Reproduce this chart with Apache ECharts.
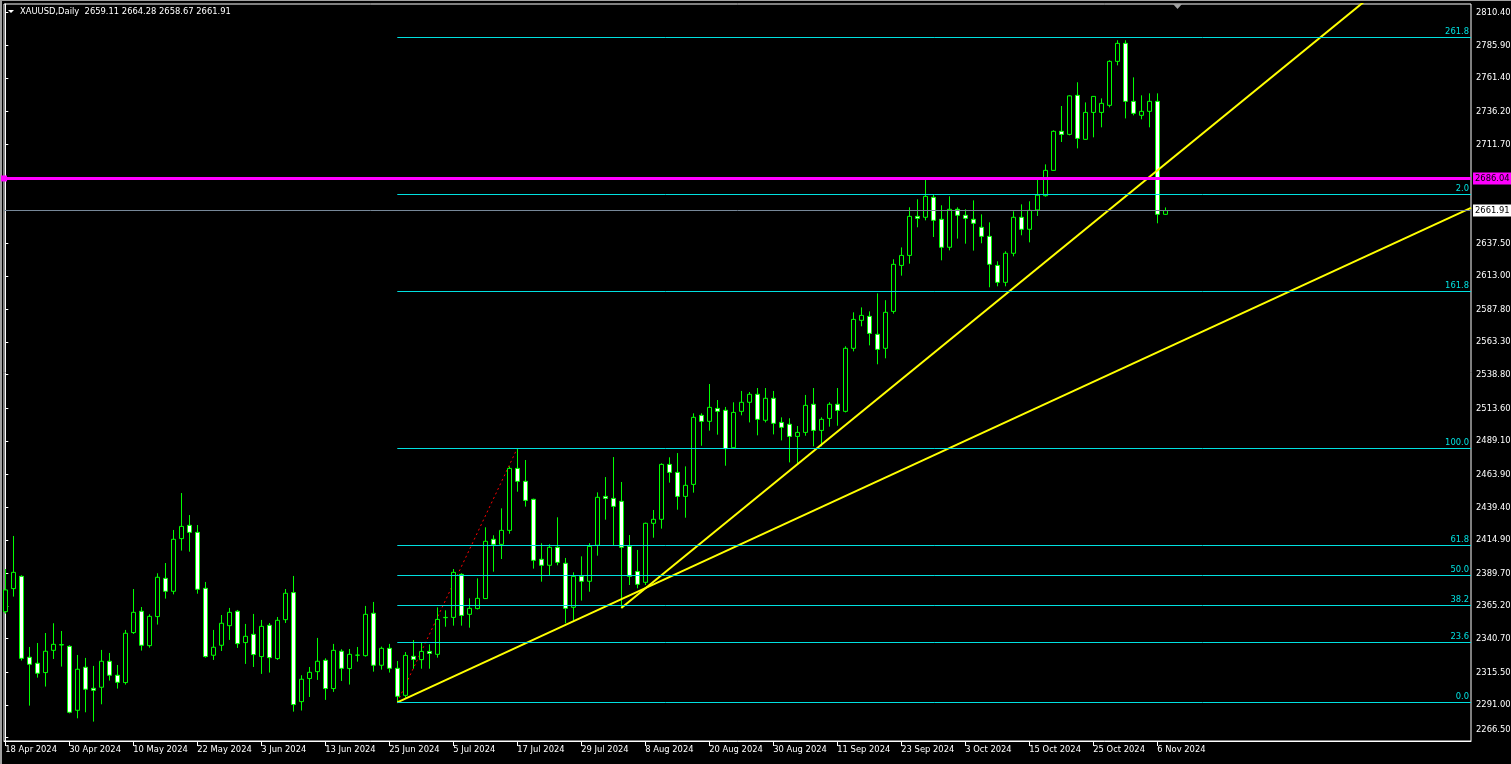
<!DOCTYPE html>
<html><head><meta charset="utf-8">
<script src="https://cdn.jsdelivr.net/npm/echarts@6/dist/echarts.min.js"></script>
<style>html,body{margin:0;padding:0;background:#000;overflow:hidden}#c{width:1511px;height:764px}</style>
</head><body><div id="c"></div>
<script>
// ---- DATA (XAUUSD Daily, bars from 18 Apr 2024 to 7 Nov 2024) ----
const opens=[2361.0,2378.3,2387.5,2326.8,2322.3,2315.3,2332.0,2336.0,2335.0,2287.0,2319.3,2303.5,2304.3,2323.8,2313.3,2307.8,2345.3,2361.3,2335.5,2357.3,2386.0,2376.3,2415.8,2425.8,2420.5,2378.5,2328.3,2335.8,2350.5,2361.3,2337.8,2344.0,2327.3,2350.8,2325.8,2355.0,2375.3,2293.5,2310.8,2316.0,2324.5,2303.3,2331.3,2318.3,2328.3,2328.0,2359.8,2320.8,2333.5,2318.5,2298.2,2327.5,2325.0,2331.2,2329.0,2356.5,2356.7,2389.0,2359.0,2363.3,2370.8,2415.3,2411.5,2422.0,2468.5,2458.8,2445.3,2400.3,2395.8,2409.3,2397.3,2364.3,2387.5,2383.8,2410.8,2447.5,2446.0,2443.8,2410.0,2391.2,2383.0,2427.3,2430.3,2471.5,2465.5,2447.5,2456.5,2508.3,2503.8,2513.5,2512.1,2484.0,2511.3,2518.1,2524.1,2504.6,2521.1,2503.0,2501.6,2492.5,2495.5,2516.6,2497.0,2506.0,2516.6,2511.3,2558.6,2579.6,2582.6,2569.1,2558.6,2586.3,2620.8,2628.3,2657.6,2656.9,2671.9,2655.4,2634.4,2662.9,2658.4,2655.4,2649.4,2642.6,2620.8,2608.1,2629.9,2656.9,2647.9,2662.4,2673.1,2692.1,2721.4,2719.1,2748.4,2715.4,2735.6,2735.6,2740.9,2773.9,2787.4,2743.9,2733.4,2736.4,2743.9,2659.11];
const highs=[2393.0,2417.8,2388.3,2334.5,2337.5,2345.0,2352.3,2346.5,2335.8,2328.5,2326.3,2320.3,2332.3,2330.0,2321.0,2347.3,2378.0,2364.5,2359.0,2389.8,2397.5,2422.3,2450.0,2433.5,2426.0,2383.3,2347.3,2358.5,2363.8,2362.3,2351.8,2359.3,2354.8,2352.5,2357.0,2378.0,2387.8,2313.3,2319.5,2341.3,2326.0,2336.8,2332.8,2333.0,2334.5,2365.3,2368.3,2334.8,2336.8,2324.0,2330.7,2339.7,2338.0,2336.5,2364.2,2362.0,2393.0,2389.8,2371.0,2386.0,2424.3,2418.3,2438.5,2470.0,2483.6,2474.8,2445.8,2412.3,2411.5,2431.8,2401.3,2390.5,2402.5,2412.3,2450.5,2462.0,2477.0,2458.3,2418.5,2407.3,2427.8,2437.3,2472.3,2476.8,2480.0,2470.0,2509.8,2509.8,2531.8,2519.8,2514.6,2518.1,2526.6,2525.8,2528.8,2528.8,2526.6,2506.8,2506.1,2500.3,2523.6,2528.8,2506.8,2518.1,2528.8,2560.1,2585.6,2589.3,2586.3,2599.8,2594.7,2625.4,2634.3,2664.4,2670.4,2685.4,2674.1,2665.9,2672.6,2664.4,2662.9,2669.6,2659.1,2653.1,2623.9,2631.4,2661.4,2666.6,2668.9,2685.4,2696.6,2722.1,2740.4,2748.4,2758.2,2743.1,2747.8,2746.1,2774.7,2789.7,2789.7,2761.9,2748.4,2749.9,2749.9,2664.28];
const lows=[2359.5,2372.3,2324.3,2290.5,2311.5,2304.8,2325.5,2319.8,2284.7,2281.0,2285.5,2278.5,2291.5,2309.3,2303.3,2306.3,2344.3,2331.8,2334.0,2351.3,2370.8,2374.0,2406.8,2406.0,2374.5,2326.5,2324.8,2331.5,2339.8,2333.8,2321.8,2319.5,2314.3,2315.3,2324.8,2352.5,2286.0,2286.8,2297.0,2309.8,2294.8,2300.8,2309.0,2306.3,2323.5,2327.3,2316.0,2317.5,2315.3,2293.0,2296.5,2318.2,2318.2,2318.2,2326.5,2349.7,2350.5,2350.5,2349.0,2362.7,2370.5,2391.0,2400.5,2419.5,2451.0,2439.8,2393.3,2383.5,2388.3,2395.8,2352.3,2354.5,2369.3,2376.0,2403.0,2430.0,2411.0,2363.7,2381.0,2378.5,2381.0,2416.5,2423.3,2457.8,2437.5,2431.5,2450.3,2485.5,2496.8,2493.8,2470.5,2483.5,2508.3,2503.0,2493.3,2503.0,2494.0,2489.5,2473.0,2471.3,2493.0,2485.0,2485.0,2499.8,2500.5,2510.5,2556.3,2575.1,2560.8,2546.6,2551.1,2584.6,2613.1,2622.1,2649.4,2654.6,2642.1,2624.6,2632.1,2640.9,2637.1,2631.9,2637.4,2604.4,2605.1,2605.1,2627.6,2643.4,2638.1,2657.9,2672.4,2691.8,2713.4,2718.4,2708.6,2715.0,2716.9,2724.4,2739.4,2770.9,2731.1,2733.4,2730.4,2724.4,2652.4,2658.67];
const closes=[2377.3,2390.5,2326.0,2321.5,2314.8,2331.3,2336.5,2336.3,2285.5,2317.8,2302.8,2302.0,2323.8,2313.3,2308.0,2344.8,2360.5,2335.8,2357.5,2386.8,2376.3,2415.3,2425.0,2420.5,2377.8,2327.3,2334.3,2352.3,2360.5,2337.0,2342.5,2328.8,2350.0,2326.5,2354.5,2374.8,2291.3,2310.3,2315.5,2323.8,2303.3,2332.0,2318.5,2329.0,2328.4,2359.0,2320.8,2333.5,2318.5,2297.5,2328.2,2325.2,2331.2,2329.7,2355.2,2356.7,2390.5,2358.2,2363.5,2371.0,2413.8,2411.5,2422.0,2468.5,2458.8,2444.5,2399.5,2395.8,2409.3,2398.0,2363.5,2387.5,2383.8,2410.0,2446.8,2446.0,2440.0,2409.3,2387.5,2381.5,2427.3,2430.3,2471.5,2465.5,2447.5,2455.8,2506.8,2503.8,2514.3,2511.3,2483.3,2510.5,2518.1,2524.1,2505.3,2521.1,2502.3,2499.3,2492.5,2495.5,2515.8,2497.0,2505.3,2516.6,2512.0,2558.6,2580.3,2583.3,2569.8,2557.8,2585.6,2621.6,2628.3,2657.6,2656.1,2672.6,2654.6,2634.4,2662.9,2658.4,2656.1,2652.4,2642.6,2621.6,2608.1,2629.9,2656.9,2647.9,2662.1,2673.5,2692.1,2721.4,2719.1,2748.0,2716.1,2735.6,2747.6,2742.4,2773.9,2787.4,2743.9,2734.9,2736.4,2743.9,2659.1,2661.91];
const dateTickIdx=[0,8,16,24,32,40,48,56,64,72,80,88,96,104,112,120,128,136,144];
const dateTickLabels=['18 Apr 2024','30 Apr 2024','10 May 2024','22 May 2024','3 Jun 2024','13 Jun 2024','25 Jun 2024','5 Jul 2024','17 Jul 2024','29 Jul 2024','8 Aug 2024','20 Aug 2024','30 Aug 2024','11 Sep 2024','23 Sep 2024','3 Oct 2024','15 Oct 2024','25 Oct 2024','6 Nov 2024'];
const priceTicks=[2810.40,2785.90,2761.40,2736.20,2711.70,2637.50,2613.00,2587.80,2563.30,2538.80,2513.60,2489.10,2463.90,2439.40,2414.90,2389.70,2365.20,2340.70,2315.50,2291.00,2266.50];
const fibAnchorIdx=[49,64];
const fibAnchorPrice=[2293.0,2483.6];
const fibLevels=[0,23.6,38.2,50,61.8,100,161.8,200,261.8];
const fibLabels=['0.0','23.6','38.2','50.0','61.8','100.0','161.8','2.0','261.8'];
const shallowTrend=[[49,2293.0],[145,2558.3]];
const steepTrend=[[77,2363.7],[145,2696.9]];
const hLinePrice=2686.04;
const symbolName='XAUUSD,Daily';

// ---- LAYOUT ----
const X_MIN=-0.1625, X_MAX=183.2125, Y_MIN=2263.96, Y_MAX=2816.93;
const FONT="'DejaVu Sans Condensed','Liberation Sans',sans-serif";
const FS=9.3;
const CYAN='#00e0e0';
const N=opens.length;
const candles=opens.map((o,i)=>[i,o,closes[i],lows[i],highs[i]]);
function ray(pts){const [a,b]=pts;const s=(b[1]-a[1])/(b[0]-a[0]);return [a,[X_MAX,a[1]+s*(X_MAX-a[0])]];}
const fibPrice=r=>fibAnchorPrice[0]+(fibAnchorPrice[1]-fibAnchorPrice[0])*r/100;
const last=N-1;
const header=symbolName+'  '+[opens[last],highs[last],lows[last],closes[last]].map(v=>v.toFixed(2)).join(' ');

const chart=echarts.init(document.getElementById('c'),null,{renderer:'canvas'});
chart.setOption({
  backgroundColor:'#000',
  animation:false,
  grid:{left:4,right:40,top:4,bottom:23,show:true,borderColor:'#ffffff',borderWidth:1,containLabel:false,outerBoundsMode:'none'},
  xAxis:{type:'value',min:X_MIN,max:X_MAX,splitLine:{show:false},
    axisLine:{show:true,lineStyle:{color:'#fff',width:1}},
    axisTick:{show:true,customValues:dateTickIdx,length:5,lineStyle:{color:'#fff'}},
    axisLabel:{customValues:dateTickIdx,formatter:v=>dateTickLabels[dateTickIdx.indexOf(Math.round(v))]||'',
      color:'#fff',fontFamily:FONT,fontSize:FS,align:'left',margin:4,hideOverlap:false}},
  yAxis:{type:'value',position:'right',min:Y_MIN,max:Y_MAX,splitLine:{show:false},
    axisLine:{show:true,lineStyle:{color:'#fff',width:1}},
    axisTick:{show:true,customValues:priceTicks,length:3,lineStyle:{color:'#fff'}},
    axisLabel:{customValues:priceTicks,color:'#fff',fontFamily:FONT,fontSize:FS,margin:5,hideOverlap:false,
      formatter:v=>Math.abs(v-priceTicks[priceTicks.length-1])<1e-6?'{low|'+v.toFixed(2)+'}':v.toFixed(2),
      rich:{low:{color:'#fff',fontFamily:FONT,fontSize:FS,padding:[0,0,17,0]}}}},
  series:[
    {type:'candlestick',data:candles,barWidth:5,silent:true,
      itemStyle:{color:'#000000',color0:'#ffffff',borderColor:'#00ff00',borderColor0:'#00ff00',borderColorDoji:'#00ff00',borderWidth:1},
      z:3},
    {type:'line',data:[],silent:true,z:2,
      markLine:{silent:true,symbol:['none','none'],animation:false,
        lineStyle:{color:CYAN,width:1,type:'solid'},
        label:{show:true,position:'insideEndTop',color:CYAN,fontFamily:FONT,fontSize:FS,distance:[2,1]},
        data:fibLevels.map((r,k)=>[{coord:[fibAnchorIdx[0],fibPrice(r)],label:{formatter:fibLabels[k]}},{coord:[X_MAX,fibPrice(r)]}])}},
    {type:'line',data:[[fibAnchorIdx[0],fibAnchorPrice[0]],[fibAnchorIdx[1],fibAnchorPrice[1]]],showSymbol:false,silent:true,z:2,
      lineStyle:{color:'#ff0000',width:1,type:[2,3]}},
    {type:'line',data:ray(shallowTrend),showSymbol:false,silent:true,z:4,clip:true,lineStyle:{color:'#ffff00',width:2}},
    {type:'line',data:ray(steepTrend),showSymbol:false,silent:true,z:4,clip:true,lineStyle:{color:'#ffff00',width:2}},
    {type:'line',data:[],silent:true,z:5,
      markLine:{silent:true,symbol:['none','none'],animation:false,
        data:[
          {yAxis:closes[last],lineStyle:{color:'#778899',width:1,type:'solid'},
            label:{show:true,position:'end',formatter:p=>p.value.toFixed(2),color:'#000',backgroundColor:'#fff',fontFamily:FONT,fontSize:FS,padding:[2,2,1,2],distance:2}},
          {yAxis:hLinePrice,symbol:['rect','rect'],symbolSize:[6,6],lineStyle:{color:'#ff00ff',width:3,type:'solid'},
            label:{show:true,position:'end',formatter:p=>p.value.toFixed(2),color:'#000',backgroundColor:'#ff00ff',fontFamily:FONT,fontSize:FS,padding:[2,2,1,2],distance:2}}
        ]}}
  ],
  graphic:[
    {type:'rect',shape:{x:0,y:0,width:1511,height:1},style:{fill:'#a0a0a0'},silent:true},
    {type:'rect',shape:{x:0,y:0,width:2,height:764},style:{fill:'#a0a0a0'},silent:true},
    {type:'polygon',shape:{points:[[8,10],[14,10],[11,13]]},style:{fill:'#fff'},silent:true},
    {type:'text',x:20,y:7,style:{text:header,fill:'#fff',font:FS+"px "+FONT},silent:true},
    {type:'polygon',shape:{points:[[1173,4],[1182,4],[1177.5,9]]},style:{fill:'#a0a0a0'},silent:true}
  ]
});
</script></body></html>
